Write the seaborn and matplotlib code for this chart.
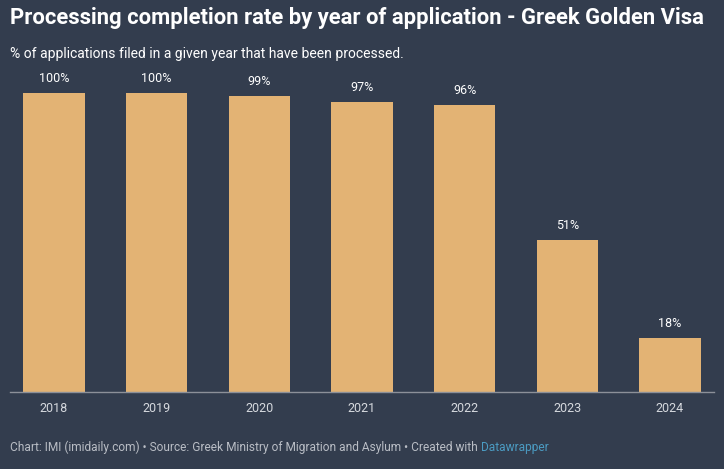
import matplotlib
matplotlib.use("Agg")
import matplotlib.pyplot as plt
import seaborn as sns
import pandas as pd

years = ["2018", "2019", "2020", "2021", "2022", "2023", "2024"]
rates = [100, 100, 99, 97, 96, 51, 18]
labels = ["100%", "100%", "99%", "97%", "96%", "51%", "18%"]

BG = "#333d4e"
BAR = "#e3b374"

sns.set_theme(style="white")
plt.rcParams['font.family'] = ['Roboto', 'DejaVu Sans']

df = pd.DataFrame({"year": years, "rate": rates})

fig = plt.figure(figsize=(7.24, 4.69), dpi=100, facecolor=BG)
ax = fig.add_axes([10/724, 77/469, 704/724, 299/469])
ax.set_facecolor(BG)

sns.barplot(data=df, x="year", y="rate", color=BAR, width=0.6, saturation=1,
            linewidth=0, edgecolor="none", ax=ax)
ax.set_ylim(0, 100)
ax.set_xlim(-0.4286, len(years) - 1 + 0.4286)

for i, (v, t) in enumerate(zip(rates, labels)):
    ax.text(i, v + 2.6, t, ha="center", va="bottom", color="#ffffff", fontsize=9)

for s in ["top", "right", "left"]:
    ax.spines[s].set_visible(False)
ax.spines["bottom"].set_color("#8c9099")
ax.spines["bottom"].set_linewidth(1)
ax.set_yticks([])
ax.set_xlabel("")
ax.set_ylabel("")
ax.tick_params(axis="x", length=0, pad=7, colors="#d6d9de", labelsize=9)

fig.text(10/724, 1 - 18/469, "Processing completion rate by year of application - Greek Golden Visa",
         color="#ffffff", fontsize=15.8, fontweight="bold", va="center", ha="left")
fig.text(10/724, 1 - 54/469, "% of applications filed in a given year that have been processed.",
         color="#ffffff", fontsize=10, va="center", ha="left")

foot = fig.text(10/724, 1 - 447/469,
                "Chart: IMI (imidaily.com) \u2022 Source: Greek Ministry of Migration and Asylum \u2022 Created with ",
                color="#b9bdc5", fontsize=8.6, va="center", ha="left")
fig.canvas.draw()
bb = foot.get_window_extent()
fig.text(bb.x1 / fig.bbox.width, 1 - 447/469, "Datawrapper", color="#4b9bc2",
         fontsize=8.6, va="center", ha="left")

fig.savefig("out.png", dpi=100, facecolor=BG)
